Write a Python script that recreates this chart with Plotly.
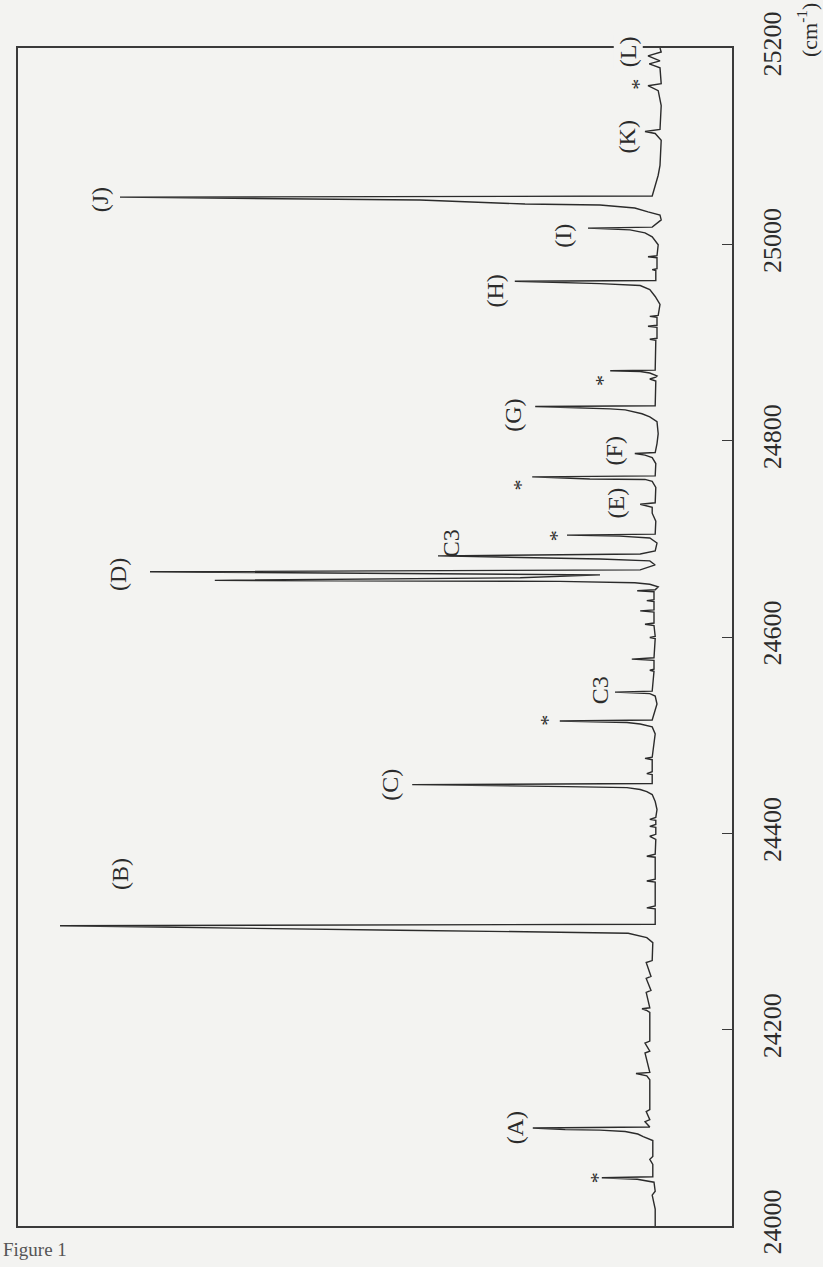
import plotly.graph_objects as go

# Emission spectrum trace: wavenumber (cm^-1) and relative intensity (arb. units)
WAVENUMBER = [
    24000.0, 24017.2, 24031.4, 24035.4, 24044.6, 24046.6, 24047.6, 24049.1, 24050.1, 24062.8,
    24067.9, 24070.9, 24087.1, 24091.1, 24093.7, 24096.2, 24097.7, 24098.2, 24099.8, 24100.8,
    24106.3, 24108.4, 24116.5, 24118.5, 24148.9, 24152.9, 24155.4, 24156.5, 24176.2, 24178.2,
    24186.3, 24188.4, 24217.7, 24219.8, 24221.3, 24222.3, 24238.0, 24240.0, 24252.2, 24254.2,
    24268.4, 24270.4, 24288.6, 24293.7, 24296.2, 24298.2, 24299.3, 24300.3, 24301.3, 24305.8,
    24307.4, 24323.1, 24324.1, 24326.1, 24350.4, 24351.4, 24353.4, 24375.7, 24376.7, 24378.7,
    24393.9, 24397.0, 24399.0, 24406.1, 24407.1, 24409.1, 24413.2, 24414.2, 24416.2, 24424.3,
    24432.4, 24439.5, 24442.5, 24444.6, 24446.6, 24447.6, 24448.1, 24449.6, 24450.7, 24459.8,
    24460.8, 24462.8, 24475.0, 24476.3, 24477.5, 24501.3, 24508.4, 24511.4, 24512.9, 24514.5,
    24515.5, 24531.7, 24539.8, 24542.3, 24543.8, 24544.8, 24565.1, 24566.1, 24567.1, 24576.2,
    24577.5, 24578.8, 24598.5, 24599.5, 24600.5, 24611.7, 24613.0, 24614.2, 24625.3, 24626.6,
    24627.6, 24636.0, 24637.0, 24638.0, 24646.1, 24647.1, 24648.1, 24651.2, 24653.7, 24655.2,
    24656.7, 24657.7, 24660.3, 24663.3, 24666.4, 24668.4, 24673.4, 24677.5, 24679.5, 24682.6,
    24684.6, 24687.6, 24695.7, 24700.8, 24702.8, 24703.8, 24704.8, 24718.0, 24726.1, 24732.2,
    24735.2, 24736.7, 24752.4, 24758.5, 24760.5, 24761.0, 24763.1, 24764.1, 24776.7, 24782.8,
    24785.3, 24786.9, 24787.9, 24797.0, 24807.1, 24819.3, 24824.3, 24827.4, 24831.4, 24832.4,
    24834.8, 24835.5, 24860.8, 24862.8, 24864.8, 24865.9, 24868.9, 24870.4, 24871.2, 24871.9,
    24902.3, 24903.3, 24904.3, 24915.5, 24916.5, 24917.5, 24925.6, 24926.6, 24927.6, 24938.8,
    24946.9, 24954.0, 24958.0, 24960.0, 24962.4, 24963.1, 24973.2, 24974.2, 24975.2, 24986.4,
    24987.4, 24988.4, 24999.5, 25007.6, 25011.7, 25014.7, 25016.5, 25017.5, 25024.9, 25029.9,
    25033.0, 25037.0, 25040.0, 25041.1, 25045.1, 25048.1, 25049.2, 25070.4, 25080.5, 25105.9,
    25112.9, 25115.0, 25117.0, 25141.3, 25156.5, 25161.6, 25163.6, 25179.8, 25183.8, 25186.9,
    25191.9, 25196.0, 25200.0,
]
INTENSITY = [
    0.3, 0.3, 0.8, 0.3, 0.5, 2.0, 3.3, 9.2, 0.7, 0.7,
    1.2, 0.7, 0.7, 2.3, 3.2, 5.3, 9.5, 15.3, 20.7, 1.2,
    2.0, 1.2, 1.8, 1.2, 1.2, 1.7, 3.5, 1.2, 2.0, 1.2,
    2.0, 1.2, 1.2, 1.8, 2.5, 1.2, 1.8, 1.0, 1.8, 1.0,
    1.8, 0.8, 0.7, 1.7, 3.3, 4.8, 16.2, 31.2, 43.0, 99.5,
    0.3, 0.3, 1.7, 0.3, 0.3, 1.7, 0.3, 0.3, 1.7, 0.3,
    0.2, 1.2, 0.2, 0.2, 1.2, 0.2, 0.2, 1.2, 0.2, 0.0,
    0.3, 0.8, 1.7, 2.8, 5.0, 15.0, 24.5, 40.8, 0.8, 0.8,
    1.7, 0.8, 0.8, 2.0, 0.8, 0.3, 0.8, 2.8, 5.0, 16.2,
    0.8, 0.0, 0.3, 1.2, 7.0, 0.8, 0.5, 1.2, 0.5, 0.5,
    4.2, 0.5, 0.3, 1.2, 0.3, 0.5, 2.0, 0.5, 0.5, 2.8,
    0.5, 0.5, 1.7, 0.5, 0.5, 3.3, 0.3, -0.2, 1.2, 3.7,
    16.2, 73.7, 22.8, 9.5, 84.5, 2.8, 0.3, 1.2, 9.5, 36.5,
    2.8, 0.3, 0.0, 1.2, 6.2, 15.0, 0.3, 0.2, 0.8, 0.8,
    2.8, 0.3, 0.2, 0.8, 2.0, 11.2, 20.8, 0.3, 0.2, 0.8,
    2.0, 3.7, 0.3, 0.0, -0.2, 0.0, 1.2, 2.5, 5.3, 7.8,
    20.3, 0.3, 0.2, 1.2, 0.2, 0.0, 1.2, 2.8, 7.8, 0.3,
    0.2, 1.2, 0.0, 0.0, 1.5, 0.0, 0.0, 1.2, -0.2, -0.5,
    0.3, 1.2, 2.8, 9.5, 23.7, 0.2, 0.2, 0.8, 0.0, 0.0,
    1.5, 0.0, -0.2, 0.8, 2.0, 4.5, 11.5, 0.8, -0.7, -0.5,
    1.5, 3.7, 9.5, 22.0, 39.5, 89.5, 0.8, -0.2, -0.5, -0.7,
    0.3, 2.0, -0.5, -0.7, -0.2, 1.5, -0.7, -0.5, 1.3, -0.5,
    1.5, -0.7, -0.5,
]

# Band labels: text, intensity position, wavenumber position
LABEL_TEXT = ["(A)", "*", "(B)", "(C)", "*", "C3", "(D)", "*", "C3", "(E)",
              "*", "(F)", "(G)", "*", "(H)", "(I)", "(J)", "(K)", "*", "(L)"]
LABEL_INT = [23.7, 10.0, 89.5, 44.5, 18.2, 9.5, 89.8, 16.8, 34.3, 6.8,
             22.8, 7.2, 24.0, 9.0, 27.0, 15.7, 92.8, 5.0, 3.0, 4.8]
LABEL_WN = [24100.3, 24048.6, 24358.5, 24449.6, 24515.5, 24545.8, 24663.3, 24702.8, 24695.7, 24736.2,
            24754.5, 24789.9, 24825.4, 24860.8, 24951.9, 25008.6, 25045.1, 25108.9, 25162.6, 25196.0]

TICK_VALUES = [24000, 24200, 24400, 24600, 24800, 25000, 25200]
TICK_TEXT = ["24000", "24200", "24400", "24600", "24800", "25000", "25200"]

PAPER = "#f3f3f1"
INK = "#2b2b2b"
SERIF = "Liberation Serif, Times New Roman, serif"

fig = go.Figure()
fig.add_trace(go.Scatter(
    x=INTENSITY, y=WAVENUMBER, mode="lines",
    line=dict(color=INK, width=1.4),
    hoverinfo="skip", showlegend=False,
))

for text, xi, yw in zip(LABEL_TEXT, LABEL_INT, LABEL_WN):
    star = text == "*"
    fig.add_annotation(
        x=xi, y=yw, xref="x", yref="y", text=text, showarrow=False,
        textangle=-90, font=dict(family=SERIF, size=22 if star else 24, color=INK),
        xanchor="center", yanchor="middle",
        bgcolor=PAPER if text == "(L)" else None,
    )

# unit label beside the top tick and the caption below the frame
fig.add_annotation(
    x=1.106, y=1.015, xref="paper", yref="paper", text="(cm<sup>-1</sup>)",
    showarrow=False, textangle=-90, font=dict(family=SERIF, size=22, color=INK),
    xanchor="center", yanchor="middle",
)
fig.add_annotation(
    x=-0.024, y=-0.02, xref="paper", yref="paper", text="Figure 1",
    showarrow=False, font=dict(family=SERIF, size=19, color="#555"),
    xanchor="left", yanchor="middle",
)

fig.update_layout(
    width=823, height=1267,
    margin=dict(l=18, r=91, t=42, b=40),
    paper_bgcolor=PAPER, plot_bgcolor=PAPER,
    xaxis=dict(
        range=[106.5, -12.5], showticklabels=False, ticks="", showgrid=False,
        zeroline=False, showline=True, mirror=True, linecolor="#3a3a3a", linewidth=1.5,
    ),
    yaxis=dict(
        range=[24000, 25200], side="right", tickvals=TICK_VALUES, ticktext=TICK_TEXT,
        ticks="inside", ticklen=10, tickwidth=1.4, tickcolor="#3a3a3a",
        tickangle=-90, ticklabelstandoff=16,
        tickfont=dict(family=SERIF, size=26, color=INK),
        showgrid=False, zeroline=False, showline=True, mirror=True,
        linecolor="#3a3a3a", linewidth=1.5,
    ),
)

fig.write_html("out.html", config={"displayModeBar": False})
